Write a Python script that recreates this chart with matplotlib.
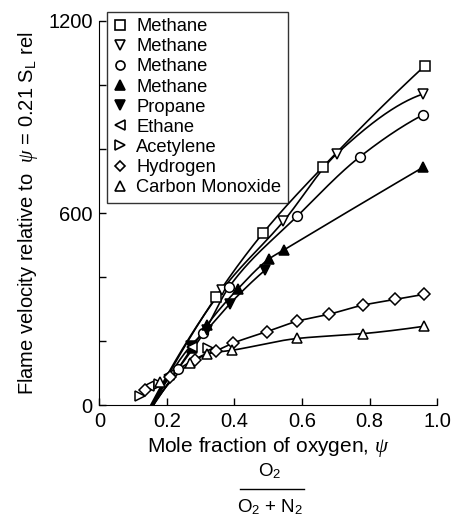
import numpy as np
import matplotlib
matplotlib.use("Agg")
import matplotlib.pyplot as plt
from matplotlib.lines import Line2D

plt.rcParams['font.family'] = ['Liberation Sans', 'DejaVu Sans']
plt.rcParams['mathtext.fontset'] = 'custom'
plt.rcParams['mathtext.rm'] = 'Liberation Sans'
plt.rcParams['mathtext.it'] = 'Liberation Serif:italic'

# ---- data ----
labels = ["Methane", "Methane", "Methane", "Methane", "Propane", "Ethane",
          "Acetylene", "Hydrogen", "Carbon Monoxide"]
markers = ["s", "v", "o", "^", "v", "<", ">", "D", "^"]
filled = [False, False, False, True, True, False, False, False, False]

ch4_sq_x = [0.345, 0.485, 0.661, 0.964]
ch4_sq_y = [338, 538, 743, 1060]
ch4_tri_dn_x = [0.362, 0.545, 0.703, 0.959]
ch4_tri_dn_y = [358, 574, 785, 972]
ch4_circ_x = [0.234, 0.308, 0.384, 0.586, 0.772, 0.959]
ch4_circ_y = [114, 224, 369, 590, 776, 907]
ch4_tri_up_x = [0.273, 0.318, 0.411, 0.503, 0.547, 0.959]
ch4_tri_up_y = [177, 249, 364, 457, 485, 743]
propane_x = [0.270, 0.318, 0.387, 0.490]
propane_y = [185, 235, 317, 421]
ethane_x = [0.148, 0.205, 0.275]
ethane_y = [60, 95, 180]
acetylene_x = [0.120, 0.175, 0.322]
acetylene_y = [28, 67, 177]
hydrogen_x = [0.135, 0.209, 0.283, 0.345, 0.397, 0.495, 0.586, 0.681, 0.780, 0.876, 0.962]
hydrogen_y = [47, 88, 142, 169, 194, 229, 262, 284, 312, 330, 346]
co_x = [0.179, 0.268, 0.318, 0.392, 0.586, 0.780, 0.961]
co_y = [73, 130, 160, 171, 208, 223, 246]

# psi where each fitted curve meets zero velocity (None = no curve)
zero_psi = [0.155, 0.152, 0.158, 0.160, 0.160, None, None, 0.160, 0.158]
# only points with psi above this are used for the curve
curve_from = [0.2, 0.2, 0.2, 0.2, 0.2, None, None, 0.2, 0.25]

series = [(ch4_sq_x, ch4_sq_y), (ch4_tri_dn_x, ch4_tri_dn_y),
          (ch4_circ_x, ch4_circ_y), (ch4_tri_up_x, ch4_tri_up_y),
          (propane_x, propane_y), (ethane_x, ethane_y),
          (acetylene_x, acetylene_y), (hydrogen_x, hydrogen_y), (co_x, co_y)]


def pchip(x, y, xn):
    x = np.asarray(x, float); y = np.asarray(y, float)
    h = np.diff(x); d = np.diff(y) / h
    n = len(x)
    m = np.zeros(n)
    for k in range(1, n - 1):
        if d[k - 1] * d[k] > 0:
            w1 = 2 * h[k] + h[k - 1]; w2 = h[k] + 2 * h[k - 1]
            m[k] = (w1 + w2) / (w1 / d[k - 1] + w2 / d[k])
    m[0] = d[0]; m[-1] = d[-1]
    if n > 2:
        m[0] = ((2 * h[0] + h[1]) * d[0] - h[0] * d[1]) / (h[0] + h[1])
        if np.sign(m[0]) != np.sign(d[0]): m[0] = 0
        m[-1] = ((2 * h[-1] + h[-2]) * d[-1] - h[-1] * d[-2]) / (h[-1] + h[-2])
        if np.sign(m[-1]) != np.sign(d[-1]): m[-1] = 0
    idx = np.clip(np.searchsorted(x, xn) - 1, 0, n - 2)
    t = (xn - x[idx]) / h[idx]
    h00 = 2*t**3 - 3*t**2 + 1; h10 = t**3 - 2*t**2 + t
    h01 = -2*t**3 + 3*t**2; h11 = t**3 - t**2
    return h00*y[idx] + h10*h[idx]*m[idx] + h01*y[idx+1] + h11*h[idx]*m[idx+1]


fig = plt.figure(figsize=(4.53, 5.24), dpi=100)
ax = fig.add_axes([0.2196, 0.227, 0.9647 - 0.2196, 0.96 - 0.227])

handles = []
for (xs, ys), mk, fl, z0, cf, lab in zip(series, markers, filled, zero_psi, curve_from, labels):
    if z0 is not None:
        px = [z0] + [a for a in xs if a > cf]
        py = [0] + [b for a, b in zip(xs, ys) if a > cf]
        xx = np.linspace(px[0], px[-1], 300)
        ax.plot(xx, pchip(px, py, xx), color='black', lw=1.2, zorder=2, clip_on=True)
    ms = 6.0 if mk == 'D' else 7.0
    ax.plot(xs, ys, linestyle='none', marker=mk, ms=ms,
            mfc='black' if fl else 'white', mec='black', mew=1.1, zorder=3, clip_on=False)
    handles.append(Line2D([], [], linestyle='none', marker=mk, ms=ms - 0.5,
                          mfc='black' if fl else 'white', mec='black', mew=1.2, label=lab))

ax.set_xlim(0, 1.0)
ax.set_ylim(0, 1200)
ax.spines['top'].set_visible(False)
ax.spines['right'].set_visible(False)
ax.set_xticks([0, 0.2, 0.4, 0.6, 0.8, 1.0])
ax.set_xticklabels(['0', '0.2', '0.4', '0.6', '0.8', '1.0'])
ax.set_yticks([0, 600, 1200])
ax.set_yticks([200, 400, 800, 1000], minor=True)
ax.tick_params(which='both', direction='in', labelsize=14.5, length=5, width=1)
ax.tick_params(axis='x', pad=5)
ax.tick_params(axis='y', pad=5)

ax.set_xlabel(r'Mole fraction of oxygen, $\psi$', fontsize=15, labelpad=3)
ax.set_ylabel(r'Flame velocity relative to  $\psi$ = 0.21 S$_\mathrm{L}$ rel', fontsize=14.5, labelpad=6)

leg = ax.legend(handles=handles, loc='upper left', bbox_to_anchor=(0.022, 1.024),
                frameon=True, fancybox=False, fontsize=13.2, labelspacing=0.17,
                handlelength=0.7, handletextpad=0.55, borderpad=0.35, borderaxespad=0)
leg.get_frame().set_edgecolor('black')
leg.get_frame().set_linewidth(1.0)

# fraction under the x label
cx = 270 / 453
fig.text(cx, 1 - 471 / 524, r'O$_2$', ha='center', va='center', fontsize=13.5)
fig.add_artist(Line2D([240 / 453, 304 / 453], [1 - 489 / 524] * 2, color='black', lw=1.0))
fig.text(cx, 1 - 507 / 524, r'O$_2$ + N$_2$', ha='center', va='center', fontsize=13.5)

fig.savefig('out.png', dpi=100)
